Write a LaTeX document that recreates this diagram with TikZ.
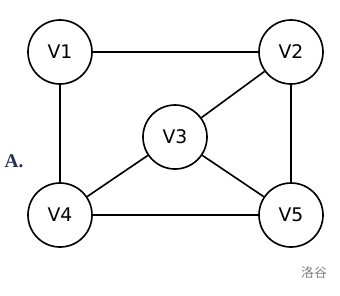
\documentclass[tikz,border=0pt]{standalone}
\usepackage{fontspec}
\setmainfont{DejaVu Sans}
\newfontfamily\cjk{Noto Sans CJK SC}
\newfontfamily\labelserif{Liberation Serif}
\definecolor{labelblue}{rgb}{0.16,0.18,0.32}
\begin{document}
\begin{tikzpicture}[x=0.03cm,y=-0.03cm,every node/.style={inner sep=1.5pt},
    vertex/.style={draw,circle,line width=1.4pt,minimum size=1.92cm,font=\fontsize{16}{19}\selectfont}]
    \useasboundingbox (0,0) rectangle (340,295);
        \node[vertex] (v1) at (60,52) {V1};
        \node[vertex] (v2) at (291,52) {V2};
        \node[vertex] (v3) at (175,137) {V3};
        \node[vertex] (v4) at (60,215) {V4};
        \node[vertex] (v5) at (291,215) {V5};
        \node[text=labelblue,font=\labelserif\bfseries\fontsize{16.5}{18}\selectfont] (lab) at (14,161) {A.};
        \node[text=gray,font=\fontsize{11}{13}\cjk\selectfont] (mark) at (314,273) {洛谷};
        \draw[line width=1.4pt] (v1)--(v2) (v1)--(v4);
        \draw[line width=1.4pt] (v2)--(v3) (v2)--(v5);
        \draw[line width=1.4pt] (v3)--(v4) (v3)--(v5) (v4)--(v5);
    \end{tikzpicture}
\end{document}
